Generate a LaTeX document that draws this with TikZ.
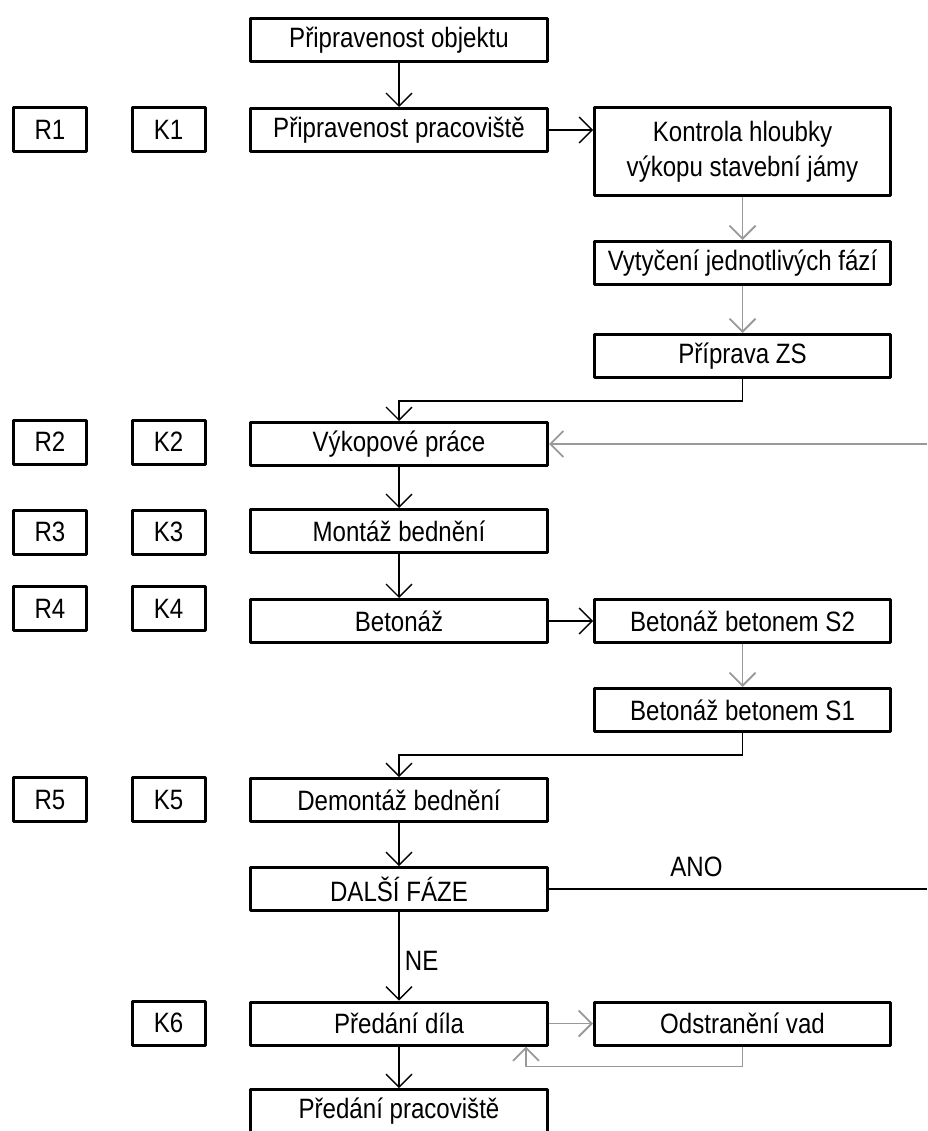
\documentclass[tikz,border=0pt]{standalone}
\usepackage{fontspec}
\setmainfont{Liberation Sans}[FakeStretch=0.86]
\usepackage{tikz}
\usetikzlibrary{arrows.meta}

\begin{document}
\begin{tikzpicture}[x=1pt,y=-1pt,
  font=\fontsize{28}{35}\selectfont,
  box/.style={draw,line width=3pt,line join=round,inner sep=0pt,minimum width=297pt,minimum height=43pt},
  rbox/.style={box,minimum width=296pt},
  tag/.style={box,minimum width=73pt,minimum height=44pt},
  line/.style={line width=1.3pt,black},
  gline/.style={line width=1.8pt,black!40},
  >={Straight Barb[length=13pt,width=26pt]}]
\useasboundingbox (0,0) rectangle (927,1131);

\node[box](1) at(399,40){Připravenost objektu};
\node[box](2) at(399,130){Připravenost pracoviště};
\node[rbox,minimum height=88pt,align=center](3) at(742.5,151.5){Kontrola hloubky\\výkopu stavební jámy};
\node[rbox](4) at(742.5,263){Vytyčení jednotlivých fází};
\node[rbox](5) at(742.5,356){Příprava ZS};
\node[box](6) at(399,444){Výkopové práce};
\node[box](7) at(399,531){Montáž bednění};
\node[box](8) at(399,621){Betonáž};
\node[rbox](9) at(742.5,621){Betonáž betonem S2};
\node[rbox](10) at(742.5,710){Betonáž betonem S1};
\node[box](11) at(399,800){Demontáž bednění};
\node[box](12) at(399,889){DALŠÍ FÁZE};
\node[box](13) at(399,1023.5){Předání díla};
\node[rbox](14) at(742.5,1023.5){Odstranění vad};
\node[box](15) at(399,1111){Předání pracoviště};

\node[tag](r1) at(50,130){R1};
\node[tag](k1) at(168.5,130){K1};
\node[tag](r2) at(50,442){R2};
\node[tag](k2) at(168.5,442){K2};
\node[tag](r3) at(50,532){R3};
\node[tag](k3) at(168.5,532){K3};
\node[tag](r4) at(50,608.5){R4};
\node[tag](k4) at(168.5,608.5){K4};
\node[tag](r5) at(50,799.5){R5};
\node[tag](k5) at(168.5,799.5){K5};
\node[tag](k6) at(168.5,1023){K6};

\coordinate(e1) at(927,444);
\coordinate(e2) at(927,889);

\draw [line,->](1)--(2);
\draw [line,->](2.east)--(2.east -| 3.west);
\draw [gline,->](3)--(4);
\draw [gline,->](4)--(5);
\draw [line,->](5.south)--++(0,22)-|(6.north);
\draw [gline,->](e1)--(6.east);
\draw [line,->](6)--(7);
\draw [line,->](7)--(8);
\draw [line,->](8)--(9);
\draw [gline,->](9)--(10);
\draw [line,->](10.south)--++(0,22)-|(11.north);
\draw [line,->](11)--(12);
\draw [line](12.east)--(e2) node[pos=0.39,above=8pt]{ANO};
\draw [line,->](12)--(13) node[pos=0.55,right=2pt]{NE};
\draw [gline,->](13)--(14);
\draw [gline,->](14.south)--++(0,20)-|([xshift=-23pt]13.south east);
\draw [line,->](13)--(15);
\end{tikzpicture}
\end{document}
